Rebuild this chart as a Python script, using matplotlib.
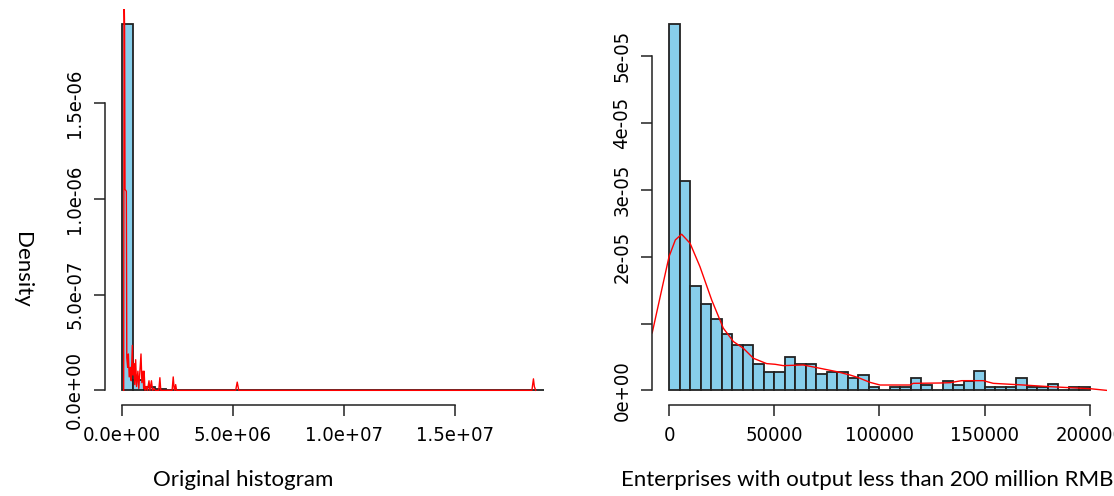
import numpy as np
import matplotlib
matplotlib.use("Agg")
import matplotlib.pyplot as plt

# left panel: original data, bins of 5e5
left_edges = np.arange(0, 19.5e6, 0.5e6)
left_dens = [1.916e-6, 0.052e-6, 0.017e-6, 0.009e-6, 0.004e-6, 0, 0, 0, 0, 0,
             0.002e-6, 0, 0, 0, 0, 0, 0, 0, 0, 0,
             0, 0, 0, 0, 0, 0, 0, 0, 0, 0,
             0, 0, 0, 0, 0, 0, 0, 0.002e-6]
# red density line (x in 1e6, y in 1e-6)
left_kx = [0.08, 0.10, 0.12, 0.14, 0.20, 0.22, 0.26, 0.29, 0.33, 0.38, 0.42, 0.47, 0.50,
           0.54, 0.58, 0.62, 0.66, 0.72, 0.76, 0.86, 0.90, 0.95, 0.98, 1.00, 1.04, 1.10,
           1.15, 1.22, 1.26, 1.33, 1.38, 1.45, 1.50, 1.66, 1.71, 1.75, 2.26, 2.31, 2.35,
           2.38, 2.42, 2.46, 5.12, 5.19, 5.26, 18.45, 18.52, 18.56, 18.62]
left_ky = [0.0, 2.05, 1.90, 1.05, 1.04, 0.17, 0.12, 0.19, 0.07, 0.12, 0.05, 0.235, 0.08,
           0.14, 0.03, 0.16, 0.02, 0.10, 0.01, 0.19, 0.04, 0.10, 0.01, 0.10, 0.0, 0.02,
           0.0, 0.05, 0.0, 0.05, 0.0, 0.01, 0.0, 0.0, 0.066, 0.0, 0.0, 0.07, 0.01,
           0.0, 0.03, 0.0, 0.0, 0.043, 0.0, 0.0, 0.06, 0.02, 0.0]
left_xticks = [0, 5e6, 1e7, 1.5e7]
left_xlabels = ["0.0e+00", "5.0e+06", "1.0e+07", "1.5e+07"]
left_yticks = [0, 5e-7, 1e-6, 1.5e-6]
left_ylabels = ["0.0e+00", "5.0e-07", "1.0e-06", "1.5e-06"]

# right panel: output < 200 million, bins of 5000 (density in 1e-5)
right_edges = np.arange(0, 205000, 5000)
right_dens = [5.485, 3.135, 1.56, 1.285, 1.065, 0.84, 0.675, 0.675, 0.40, 0.28,
              0.28, 0.495, 0.40, 0.40, 0.24, 0.28, 0.28, 0.19, 0.235, 0.045,
              0.0, 0.045, 0.045, 0.185, 0.085, 0.0, 0.145, 0.085, 0.145, 0.285,
              0.045, 0.045, 0.045, 0.185, 0.045, 0.045, 0.095, 0.0, 0.045, 0.045]
right_kx = [-8.0, 0.0, 3.0, 6.0, 10.0, 14.7, 20.3, 25.8, 30.6, 35.3, 40.1, 46.4, 50.4,
            54.3, 63.8, 70.2, 79.7, 86.0, 90.0, 95.5, 100.3, 114.5, 116.1, 128.8,
            133.6, 139.1, 149.4, 154.1, 168.4, 181.1, 200.1, 208.0]
right_ky = [0.86, 2.0, 2.25, 2.335, 2.2, 1.85, 1.35, 0.93, 0.73, 0.63, 0.48, 0.40, 0.39,
            0.37, 0.38, 0.34, 0.28, 0.23, 0.19, 0.12, 0.08, 0.08, 0.105, 0.11,
            0.115, 0.145, 0.145, 0.105, 0.08, 0.055, 0.025, 0.0]
right_xticks = [0, 50000, 100000, 150000, 200000]
right_xlabels = ["0", "50000", "100000", "150000", "200000"]
right_yticks = [0, 1e-5, 2e-5, 3e-5, 4e-5, 5e-5]
right_ylabels = ["0e+00", "", "2e-05", "3e-05", "4e-05", "5e-05"]

tick_font = ["DejaVu Sans"]
label_font = ["Lato", "DejaVu Sans"]
axcol = "#222222"

fig = plt.figure(figsize=(11.14, 4.96), dpi=100)


def r_style(ax, xt, xl, yt, yl):
    for s in ["top", "right"]:
        ax.spines[s].set_visible(False)
    ax.spines["left"].set_bounds(yt[0], yt[-1])
    ax.spines["bottom"].set_bounds(xt[0], xt[-1])
    for s in ["left", "bottom"]:
        ax.spines[s].set_color(axcol)
        ax.spines[s].set_linewidth(1.1)
    ax.set_xticks(xt)
    ax.set_xticklabels(xl, family=tick_font, fontsize=14.5, stretch="condensed")
    ax.set_yticks(yt)
    ax.set_yticklabels(yl, family=tick_font, fontsize=14.5, stretch="condensed",
                       rotation=90, va="center")
    ax.tick_params(length=8, width=1.1, color=axcol, pad=7)


ax1 = fig.add_axes([105 / 1114, 91 / 496, 456 / 1114, 396 / 496])
ax1.bar(left_edges[:-1], left_dens, width=np.diff(left_edges), align="edge",
        color="skyblue", edgecolor="#222222", linewidth=1.3)
ax1.plot(np.array(left_kx) * 1e6, np.array(left_ky) * 1e-6, color="red", linewidth=1.0)
ax1.set_xlim(-0.76e6, 19.76e6)
ax1.set_ylim(-0.0766e-6, 1.992e-6)
r_style(ax1, left_xticks, left_xlabels, left_yticks, left_ylabels)

ax2 = fig.add_axes([652.2 / 1114, 91 / 496, 454.4 / 1114, 396 / 496])
ax2.bar(right_edges[:-1], np.array(right_dens) * 1e-5, width=np.diff(right_edges),
        align="edge", color="skyblue", edgecolor="#222222", linewidth=1.3)
ax2.plot(np.array(right_kx) * 1000, np.array(right_ky) * 1e-5, color="red", linewidth=1.0)
ax2.set_xlim(-8000, 208000)
ax2.set_ylim(-0.219e-5, 5.704e-5)
r_style(ax2, right_xticks, right_xlabels, right_yticks, right_ylabels)

fig.text(22 / 1114, 1 - 270 / 496, "Density", rotation=270, ha="center", va="center",
         family=label_font, fontsize=16)
fig.text(243 / 1114, 1 - 480 / 496, "Original histogram", ha="center", va="center",
         family=label_font, fontsize=16)
fig.text(867 / 1114, 1 - 480 / 496, "Enterprises with output less than 200 million RMB",
         ha="center", va="center", family=label_font, fontsize=16)

fig.savefig("out.png", dpi=100)
